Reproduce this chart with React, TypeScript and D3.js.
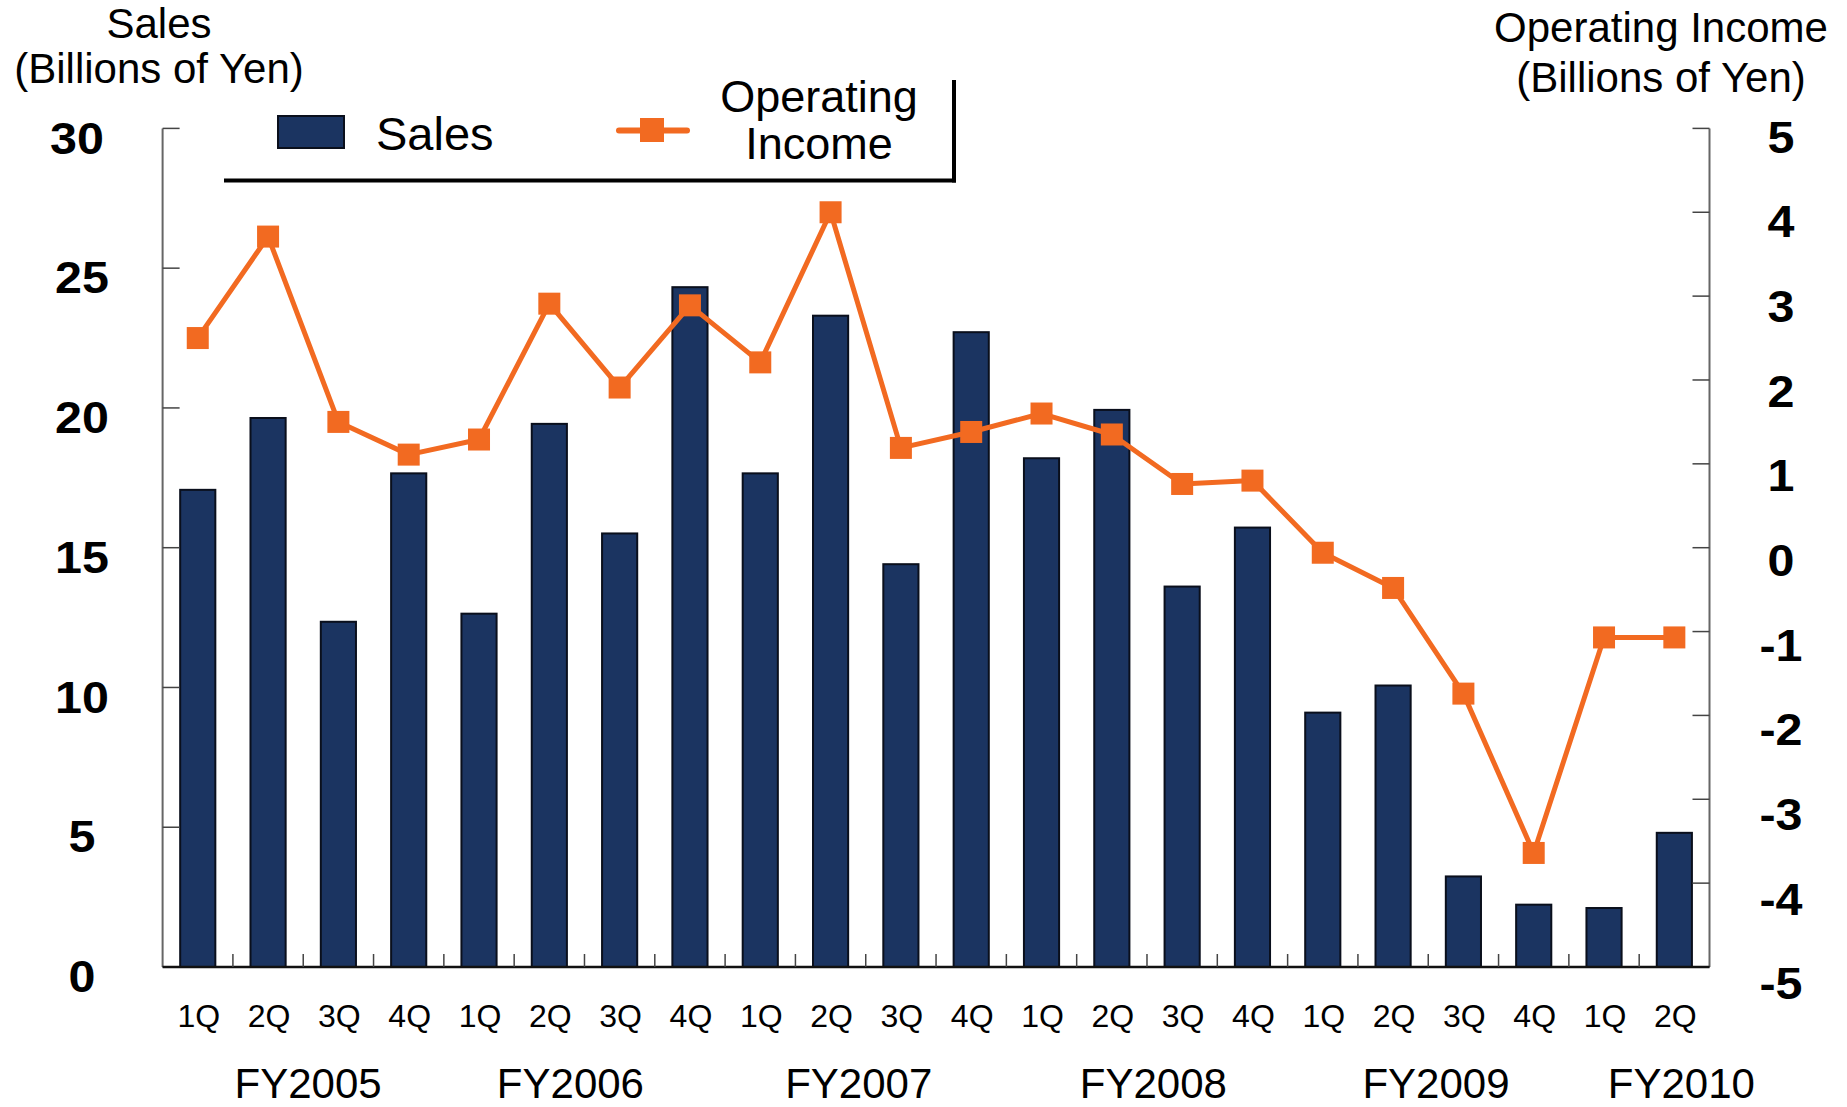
import React from "react";
import * as d3 from "d3";

const categories = ["1Q","2Q","3Q","4Q","1Q","2Q","3Q","4Q","1Q","2Q","3Q","4Q","1Q","2Q","3Q","4Q","1Q","2Q","3Q","4Q","1Q","2Q"];
const fiscalYears = ["FY2005","FY2006","FY2007","FY2008","FY2009","FY2010"];
const sales = [17.07,19.64,12.35,17.66,12.64,19.43,15.51,24.32,17.66,23.3,14.41,22.71,18.2,19.93,13.61,15.72,9.1,10.07,3.24,2.23,2.11,4.8];
const operatingIncome = [2.5,3.71,1.5,1.11,1.29,2.91,1.91,2.89,2.21,4.0,1.19,1.38,1.6,1.35,0.76,0.8,-0.06,-0.48,-1.74,-3.64,-1.07,-1.07];
const salesTicks = [0,5,10,15,20,25,30];
const incomeTicks = [-5,-4,-3,-2,-1,0,1,2,3,4,5];

// layout
const W = 1847, H = 1107;
const X0 = 162.6, X1 = 1709.5, YT = 128.4, YB = 967;
const fyPos = [2.07, 5.8, 9.9, 14.09, 18.11, 21.6];
const NAVY = "#1B3461";
const ORANGE = "#F26A21";
const FONT = "'Liberation Sans', Arial, sans-serif";

export default function App() {
  const idx = categories.map((_, i) => i);
  const x = d3.scaleBand<number>().domain(idx).range([X0, X1]).paddingInner(0.5).paddingOuter(0.25);
  const step = x.step();
  const ySales = d3.scaleLinear().domain([0, 30]).range([YB, YT]);
  const yInc = d3.scaleLinear().domain([-5, 5]).range([YB, YT]);
  const line = d3.line<number>().x((_, i) => x(i)! + x.bandwidth() / 2).y((d) => yInc(d));
  const fyScale = d3.scaleLinear().domain([0, categories.length]).range([X0, X1]);
  const labelOffsetR = d3.scaleLinear().domain([5, -5]).range([9, 17]);
  const mk = 22;
  const sx = 1.1;

  return (
    <svg width={W} height={H} style={{ position: "absolute", left: 0, top: 0, background: "#fff" }} fontFamily={FONT}>
      {/* axis titles */}
      <text x={159} y={38} fontSize={42} textAnchor="middle">Sales</text>
      <text x={159} y={83} fontSize={42} textAnchor="middle">(Billions of Yen)</text>
      <text x={1661} y={42} fontSize={42} textAnchor="middle">Operating Income</text>
      <text x={1661} y={92} fontSize={42} textAnchor="middle">(Billions of Yen)</text>

      {/* bars */}
      {sales.map((v, i) => (
        <rect key={i} x={x(i)} y={ySales(v)} width={x.bandwidth()} height={YB - ySales(v)} fill={NAVY} stroke="#0a0f1c" strokeWidth={2} />
      ))}

      {/* left axis */}
      <line x1={X0} x2={X0} y1={YT} y2={YB} stroke="#666" strokeWidth={2} />
      {salesTicks.map((t) => (
        <g key={t}>
          <line x1={X0} x2={X0 + 17} y1={ySales(t)} y2={ySales(t)} stroke="#444" strokeWidth={1.5} />
          <text transform={`translate(${t === 30 ? 77 : 82},${ySales(t) + 10}) scale(${sx},1)`} fontSize={44} fontWeight="bold" textAnchor="middle" dominantBaseline="central">{t}</text>
        </g>
      ))}
      {/* right axis */}
      <line x1={X1} x2={X1} y1={YT} y2={YB} stroke="#666" strokeWidth={2} />
      {incomeTicks.map((t) => (
        <g key={t}>
          <line x1={X1 - 17} x2={X1} y1={yInc(t)} y2={yInc(t)} stroke="#444" strokeWidth={1.5} />
          <text transform={`translate(1781,${yInc(t) + labelOffsetR(t)}) scale(${sx},1)`} fontSize={44} fontWeight="bold" textAnchor="middle" dominantBaseline="central">{t}</text>
        </g>
      ))}
      {/* bottom axis */}
      <line x1={X0} x2={X1} y1={YB} y2={YB} stroke="#111" strokeWidth={2.5} />
      {idx.slice(1).map((i) => (
        <line key={i} x1={X0 + i * step} x2={X0 + i * step} y1={YB} y2={YB - 13} stroke="#444" strokeWidth={1.5} />
      ))}
      {categories.map((c, i) => (
        <text key={i} x={x(i)! + x.bandwidth() / 2 + 1} y={1027} fontSize={32} textAnchor="middle">{c}</text>
      ))}
      {fiscalYears.map((f, i) => (
        <text key={f} x={fyScale(fyPos[i])} y={1098} fontSize={42} textAnchor="middle">{f}</text>
      ))}

      {/* line */}
      <path d={line(operatingIncome) || ""} fill="none" stroke={ORANGE} strokeWidth={5} strokeLinejoin="round" />
      {operatingIncome.map((v, i) => (
        <rect key={i} x={x(i)! + x.bandwidth() / 2 - mk / 2} y={yInc(v) - mk / 2} width={mk} height={mk} fill={ORANGE} />
      ))}

      {/* legend */}
      <line x1={224} x2={956} y1={180.5} y2={180.5} stroke="#000" strokeWidth={4} />
      <line x1={954} x2={954} y1={80} y2={182.5} stroke="#000" strokeWidth={4} />
      <rect x={278} y={116} width={66} height={32} fill={NAVY} stroke="#0a0f1c" strokeWidth={2} />
      <text x={376} y={150} fontSize={47}>Sales</text>
      <line x1={619} x2={687} y1={130.5} y2={130.5} stroke={ORANGE} strokeWidth={6} strokeLinecap="round" />
      <rect x={640} y={118} width={24} height={24} fill={ORANGE} />
      <text x={819} y={112} fontSize={45} textAnchor="middle">Operating</text>
      <text x={819} y={159} fontSize={45} textAnchor="middle">Income</text>
    </svg>
  );
}
